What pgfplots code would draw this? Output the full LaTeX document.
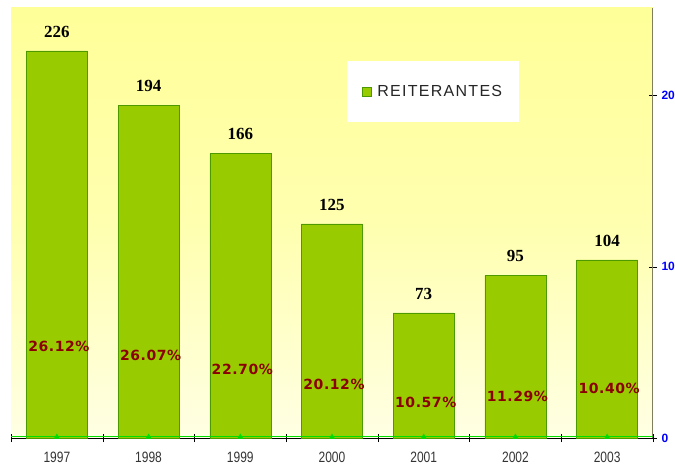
\documentclass[border=0pt]{standalone}
\usepackage{fontspec}
\setmainfont{Liberation Sans}
\newfontfamily\serifb{Liberation Serif}
\newfontfamily\pctfont[LetterSpace=4]{DejaVu Sans}
\newfontfamily\legfont[LetterSpace=8]{Liberation Sans}
\usepackage{graphicx}
\usepackage{pgfplots}
\pgfplotsset{compat=1.18}
\definecolor{barfill}{HTML}{99CC00}
\definecolor{bardraw}{HTML}{4C9A00}
\definecolor{bgtop}{HTML}{FFFF99}
\definecolor{bgbot}{HTML}{FFFFE4}
\definecolor{pctred}{HTML}{8B0000}
\definecolor{axolive}{HTML}{7F7F60}
\definecolor{linegreen}{HTML}{00DD00}
\newcommand{\yl}[1]{\scalebox{1}[1.25]{#1}}
\pgfplotstableread{
x y
0 226
1 194
2 166
3 125
4 73
5 95
6 104
}\bars
\pgfplotstableread{
x y label
0 53.2 26.12\%
1 48.5 26.07\%
2 39.8 22.70\%
3 31.0 20.12\%
4 20.5 10.57\%
5 24.0 11.29\%
6 29.2 10.40\%
}\pcts
\begin{document}
\begin{tikzpicture}[x=1pt,y=1pt]
\begin{axis}[
  at={(11pt,26pt)}, anchor=south west,
  scale only axis, width=642pt, height=430pt,
  xmin=-0.5, xmax=6.5, ymin=0, ymax=251,
  axis x line*=bottom, axis y line*=right,
  axis background/.style={shade, top color=bgtop, bottom color=bgbot, middle color=bgtop!70!bgbot},
  x axis line style={black, -},
  y axis line style={axolive, -, line width=1pt},
  xtick={0,...,6},
  xticklabels={\yl{1997},\yl{1998},\yl{1999},\yl{2000},\yl{2001},\yl{2002},\yl{2003}},
  major x tick style={draw=none},
  minor xtick={-0.5,0.5,...,6.5},
  minor tick length=8pt,
  minor x tick style={black, draw=black},
  ytick={0,100,200},
  major tick length=8pt,
  tick align=center,
  major y tick style={black},
  /pgf/number format/assume math mode=true,
  xticklabel style={font=\fontsize{12}{12}\selectfont, text=black!80, yshift=-6pt},
  yticklabel style={font=\bfseries\fontsize{12}{12}\selectfont, text=blue, xshift=1pt},
  legend style={at={(0.523,0.877)}, anchor=north west, draw=none, fill=white,
    inner xsep=15pt, inner ysep=22pt, font=\legfont\fontsize{16}{16}\selectfont,
    text=black!85, legend cell align=left},
  legend image code/.code={\draw[fill=barfill,draw=bardraw] (0pt,-4.5pt) rectangle (9pt,4.5pt);},
  clip=false,
]
\addplot[ybar, bar width=61pt, bar shift=0pt, fill=barfill, draw=bardraw,
  nodes near coords,
  every node near coord/.append style={font=\serifb\bfseries\fontsize{17}{17}\selectfont, text=black, yshift=10pt}
] table[x=x,y=y]{\bars};
\addlegendentry{\hspace{4pt}REITERANTES}
\addplot[draw=none, mark=none, forget plot,
  nodes near coords, point meta=explicit symbolic,
  every node near coord/.append style={anchor=center, font=\pctfont\bfseries\fontsize{14}{14}\selectfont, text=pctred, xshift=2pt}
] table[x=x,y=y,meta=label]{\pcts};
\addplot[linegreen, line width=1pt, mark=triangle*, mark size=2.5pt, mark indices={2,3,4,5,6,7,8}, forget plot]
  coordinates {(-0.5,0.6)(0,0.6)(1,0.6)(2,0.6)(3,0.6)(4,0.6)(5,0.6)(6,0.6)(6.5,0.6)};
\end{axis}
\pgfresetboundingbox
\useasboundingbox (0,0) rectangle (675,464);
\end{tikzpicture}
\end{document}
